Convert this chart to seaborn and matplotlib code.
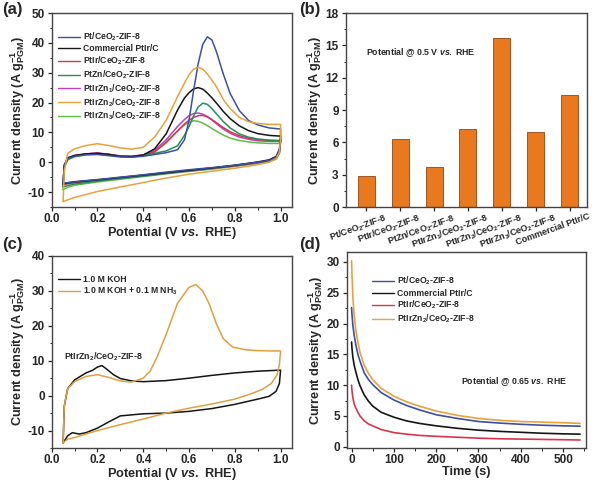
import matplotlib
matplotlib.use("Agg")
import matplotlib.pyplot as plt
from matplotlib.lines import Line2D
from matplotlib.ticker import MultipleLocator
from matplotlib.transforms import ScaledTranslation
import seaborn as sns
import pandas as pd

# ---------------- dados ----------------
# (a) CV: varredura anodica (ida) e catodica (volta)
FWD_V = [0.05, 0.055, 0.07, 0.1, 0.15, 0.2, 0.25, 0.3, 0.35, 0.4, 0.45, 0.5, 0.55, 0.58,
         0.6, 0.62, 0.64, 0.66, 0.68, 0.7, 0.72, 0.75, 0.78, 0.82, 0.86, 0.9, 0.95, 0.99, 1.0]
BWD_V = [1.0, 0.995, 0.98, 0.95, 0.9, 0.8, 0.7, 0.6, 0.5, 0.4, 0.3, 0.2, 0.1, 0.07, 0.05]

a_names = ["Pt/CeO$_2$-ZIF-8", "Commercial PtIr/C", "PtIr/CeO$_2$-ZIF-8", "PtZn/CeO$_2$-ZIF-8",
           "PtIrZn$_1$/CeO$_2$-ZIF-8", "PtIrZn$_2$/CeO$_2$-ZIF-8", "PtIrZn$_3$/CeO$_2$-ZIF-8"]
a_colors = ["#3d4ea6", "#151515", "#d8344f", "#1f9356", "#c23fbf", "#e9a23a", "#5cbf45"]

pt_fwd = [-7.0, -1.0, 1.2, 2.0, 2.5, 2.6, 2.2, 1.8, 1.7, 2.0, 2.6, 3.2, 4.2, 7.5,
          14.0, 24.0, 33.0, 39.5, 42.0, 41.0, 37.0, 29.5, 23.0, 17.3, 14.0, 12.5, 11.5, 11.2, 11.2]
comm_fwd = [-7.2, -1.0, 1.5, 2.3, 2.8, 3.0, 2.6, 2.0, 1.9, 2.4, 4.5, 9.5, 17.5, 21.5,
            23.3, 24.6, 25.0, 24.5, 23.2, 21.6, 19.8, 17.0, 14.6, 12.2, 10.6, 9.6, 9.0, 8.8, 8.8]
ptir_fwd = [-7.6, -1.2, 1.2, 2.2, 2.8, 3.0, 2.6, 2.0, 1.9, 2.4, 3.5, 6.5, 10.5, 12.8,
            14.1, 15.0, 15.6, 15.7, 15.2, 14.3, 13.2, 11.6, 10.2, 8.9, 8.1, 7.6, 7.3, 7.2, 7.2]
ptzn_fwd = [-8.3, -1.5, 1.0, 2.0, 2.7, 2.9, 2.5, 2.0, 1.9, 2.3, 3.0, 3.8, 5.5, 9.0,
            12.0, 15.5, 18.5, 19.8, 19.4, 18.0, 16.2, 13.6, 11.5, 9.5, 8.4, 7.8, 7.4, 7.3, 7.3]
zn1_fwd = [-7.3, -1.0, 1.3, 2.2, 2.8, 3.1, 2.7, 2.1, 2.0, 2.5, 4.0, 7.5, 12.0, 14.3,
           15.6, 16.3, 16.5, 16.1, 15.3, 14.2, 12.9, 11.1, 9.7, 8.4, 7.7, 7.2, 7.0, 7.0, 7.0]
zn2_fwd = [-13.0, -3.0, 3.0, 4.5, 5.6, 6.2, 5.6, 4.8, 4.4, 5.0, 8.5, 14.0, 22.0, 26.5,
           29.3, 31.2, 31.8, 31.2, 29.6, 27.5, 25.3, 21.0, 18.0, 15.0, 13.6, 13.0, 12.7, 12.7, 12.7]
zn3_fwd = [-9.2, -2.0, 0.8, 1.8, 2.5, 2.7, 2.3, 1.8, 1.7, 2.2, 3.5, 6.8, 10.5, 12.5,
           13.4, 13.9, 13.7, 13.1, 12.3, 11.3, 10.4, 9.1, 8.1, 7.3, 6.8, 6.5, 6.3, 6.3, 6.3]

pt_bwd = [8.0, 4.0, 1.6, 0.6, 0.0, -1.0, -1.8, -2.5, -3.3, -4.2, -5.0, -5.8, -6.5, -6.8, -7.0]
comm_bwd = [8.5, 4.3, 1.9, 0.8, 0.1, -1.0, -1.9, -2.7, -3.5, -4.3, -5.1, -5.9, -6.6, -6.9, -7.2]
ptir_bwd = [7.5, 3.3, 1.3, 0.4, -0.2, -1.2, -2.0, -2.8, -3.6, -4.5, -5.3, -6.1, -6.9, -7.2, -7.6]
ptzn_bwd = [7.8, 3.5, 1.4, 0.5, -0.1, -1.1, -2.0, -2.8, -3.7, -4.6, -5.4, -6.3, -7.3, -7.8, -8.3]
zn1_bwd = [7.2, 3.2, 1.2, 0.4, -0.2, -1.2, -2.1, -2.9, -3.7, -4.5, -5.3, -6.1, -6.8, -7.0, -7.3]
zn2_bwd = [8.0, 3.4, 1.2, 0.0, -0.8, -2.0, -3.0, -4.0, -5.3, -6.8, -8.3, -9.8, -11.8, -12.6, -13.2]
zn3_bwd = [7.0, 3.0, 1.0, 0.2, -0.4, -1.4, -2.3, -3.1, -3.9, -4.8, -5.7, -6.6, -7.7, -8.4, -9.2]

a_fwd = [pt_fwd, comm_fwd, ptir_fwd, ptzn_fwd, zn1_fwd, zn2_fwd, zn3_fwd]
a_bwd = [pt_bwd, comm_bwd, ptir_bwd, ptzn_bwd, zn1_bwd, zn2_bwd, zn3_bwd]
a_order = [6, 4, 2, 3, 1, 0, 5]  # ordem de desenho

# (b) barras @ 0.5 V
b_cats = ["Pt/CeO$_2$-ZIF-8", "PtIr/CeO$_2$-ZIF-8", "PtZn/CeO$_2$-ZIF-8", "PtIrZn$_1$/CeO$_2$-ZIF-8",
          "PtIrZn$_2$/CeO$_2$-ZIF-8", "PtIrZn$_3$/CeO$_2$-ZIF-8", "Commercial PtIr/C"]
b_vals = [2.9, 6.3, 3.7, 7.2, 15.7, 7.0, 10.4]

# (c) CV PtIrZn2 com e sem NH3
koh_v = [0.05, 0.055, 0.07, 0.1, 0.15, 0.18, 0.2, 0.22, 0.24, 0.27, 0.3, 0.35, 0.4, 0.5, 0.6, 0.7,
         0.8, 0.9, 1.0, 1.0, 0.995, 0.98, 0.95, 0.9, 0.8, 0.7, 0.6, 0.5, 0.4, 0.3, 0.25, 0.2,
         0.15, 0.12, 0.09, 0.07, 0.05]
koh_j = [-13.5, -3.0, 2.0, 4.5, 6.5, 7.3, 8.2, 8.6, 7.6, 6.0, 4.9, 4.2, 4.0, 4.3, 5.0, 5.8,
         6.5, 7.0, 7.3, 7.3, 3.5, 1.2, -0.2, -1.0, -2.5, -3.7, -4.5, -5.0, -5.2, -5.8, -7.5, -9.3,
         -10.6, -11.0, -10.6, -11.5, -13.5]
nh3_v = [0.05, 0.055, 0.07, 0.1, 0.15, 0.2, 0.25, 0.3, 0.35, 0.4, 0.43, 0.46, 0.5, 0.55, 0.6, 0.63,
         0.66, 0.69, 0.72, 0.75, 0.79, 0.85, 0.9, 0.95, 1.0, 1.0, 0.995, 0.985, 0.96, 0.92, 0.87,
         0.8, 0.7, 0.6, 0.5, 0.4, 0.3, 0.2, 0.1, 0.07, 0.05]
nh3_j = [-13.5, -3.0, 2.0, 4.0, 5.5, 6.0, 5.2, 4.2, 3.9, 5.0, 7.0, 11.0, 17.5, 26.5, 31.0, 31.8,
         30.0, 26.0, 20.5, 16.3, 13.9, 13.1, 12.9, 12.8, 12.8, 12.8, 9.0, 6.0, 3.5, 1.8, 0.5,
         -1.0, -2.4, -3.6, -5.0, -6.7, -8.3, -10.0, -12.0, -12.5, -13.5]

# (d) cronoamperometria @ 0.65 V
t_s = [0, 1, 3, 6, 10, 15, 20, 30, 40, 50, 70, 100, 130, 160, 200, 250, 300, 350, 400, 450, 500, 540]
d_pt = [22.6, 21.5, 19.8, 18.2, 16.6, 15.0, 13.9, 12.0, 10.9, 10.1, 8.8, 7.6, 6.7, 6.0, 5.2, 4.6,
        4.1, 3.85, 3.65, 3.5, 3.4, 3.35]
d_comm = [17.0, 16.0, 14.6, 13.3, 12.2, 10.9, 9.9, 8.4, 7.4, 6.6, 5.6, 4.8, 4.2, 3.8, 3.4, 3.0,
          2.7, 2.5, 2.35, 2.2, 2.1, 2.05]
d_ptir = [10.0, 9.1, 8.0, 7.0, 6.3, 5.6, 5.0, 4.2, 3.7, 3.4, 2.8, 2.3, 2.05, 1.85, 1.7, 1.55,
          1.4, 1.3, 1.25, 1.2, 1.15, 1.1]
d_zn2 = [30.2, 28.0, 24.5, 21.5, 19.0, 17.0, 15.3, 13.2, 11.9, 10.9, 9.5, 8.2, 7.3, 6.6, 5.8, 5.1,
         4.6, 4.3, 4.1, 4.0, 3.9, 3.8]
d_names = ["Pt/CeO$_2$-ZIF-8", "Commercial PtIr/C", "PtIr/CeO$_2$-ZIF-8", "PtIrZn$_2$/CeO$_2$-ZIF-8"]
d_colors = ["#3d4ea6", "#151515", "#d8344f", "#e9a23a"]

# ---------------- estilo ----------------
sns.set_style("ticks")
plt.rcParams['font.family'] = ['Liberation Sans', 'DejaVu Sans']
plt.rcParams['font.weight'] = 'bold'
plt.rcParams['axes.labelweight'] = 'bold'
plt.rcParams['axes.unicode_minus'] = False
plt.rcParams['mathtext.fontset'] = 'custom'
plt.rcParams['mathtext.rm'] = 'Liberation Sans:bold'
plt.rcParams['mathtext.bf'] = 'Liberation Sans:bold'
plt.rcParams['mathtext.it'] = 'Liberation Sans:italic:bold'
plt.rcParams['mathtext.default'] = 'rm'
plt.rcParams['axes.edgecolor'] = '#444444'
plt.rcParams['axes.linewidth'] = 1.0
plt.rcParams['xtick.direction'] = 'out'
plt.rcParams['ytick.direction'] = 'out'

YLAB = r"Current density (A g$^{-1}_{PGM}$)"
XLAB = r"Potential (V $\mathit{vs.}$ RHE)"
TICK_FS = 8.5
LAB_FS = 9.2
LEG = dict(frameon=False, fontsize=6.2, handlelength=2.6, handletextpad=0.3,
           labelspacing=0.15, borderaxespad=0.3, loc='upper left')

fig = plt.figure(figsize=(5.94, 4.82), dpi=100)
ax_a = fig.add_axes([0.087, 0.5705, 0.4046, 0.4025])
ax_b = fig.add_axes([0.582, 0.5705, 0.406, 0.4025])
ax_c = fig.add_axes([0.087, 0.0705, 0.4046, 0.3985])
ax_d = fig.add_axes([0.584, 0.0705, 0.4025, 0.4065])


def estilo(ax):
    for s in ax.spines.values():
        s.set_visible(True)
        s.set_color('#444444')
    ax.tick_params(axis='both', which='major', labelsize=TICK_FS, length=3, width=0.9, pad=2.0)
    ax.tick_params(axis='both', which='minor', length=1.8, width=0.7)
    ax.tick_params(axis='x', which='major', pad=1.5)
    for lab in ax.get_xticklabels() + ax.get_yticklabels():
        lab.set_fontweight('bold')


# ---- (a) ----
for i in a_order:
    xs = FWD_V + BWD_V
    ys = a_fwd[i] + a_bwd[i]
    sns.lineplot(x=xs, y=ys, sort=False, estimator=None, color=a_colors[i], lw=1.1, ax=ax_a)
ax_a.set_xlim(0, 1.05)
ax_a.set_ylim(-15, 50)
ax_a.xaxis.set_major_locator(MultipleLocator(0.2))
ax_a.xaxis.set_minor_locator(MultipleLocator(0.1))
ax_a.yaxis.set_major_locator(MultipleLocator(10))
ax_a.yaxis.set_minor_locator(MultipleLocator(5))
ax_a.set_xlabel(XLAB, fontsize=LAB_FS, fontweight='bold', labelpad=-0.5)
ax_a.set_ylabel(YLAB, fontsize=LAB_FS, fontweight='bold', labelpad=0)
h_a = [Line2D([], [], color=c, lw=1.0) for c in a_colors]
ax_a.legend(h_a, a_names, bbox_to_anchor=(0.0, 0.94), **LEG)
estilo(ax_a)

# ---- (b) ----
df_b = pd.DataFrame({'cat': b_cats, 'val': b_vals})
sns.barplot(data=df_b, x='cat', y='val', color='#e8791e', width=0.5, edgecolor='#8f4512',
            linewidth=0.6, saturation=1, ax=ax_b)
ax_b.set_xlim(-0.6, 6.5)
ax_b.set_ylim(0, 18)
ax_b.yaxis.set_major_locator(MultipleLocator(3))
ax_b.yaxis.set_minor_locator(MultipleLocator(1.5))
ax_b.set_xlabel('')
ax_b.set_ylabel(YLAB, fontsize=LAB_FS, fontweight='bold', labelpad=1)
estilo(ax_b)
ax_b.tick_params(axis='x', labelsize=6.5, pad=0.5)
desloc = ScaledTranslation(18 / 100, 0, fig.dpi_scale_trans)
for lab in ax_b.get_xticklabels():
    lab.set_rotation(20)
    lab.set_ha('right')
    lab.set_va('top')
    lab.set_rotation_mode('anchor')
    lab.set_transform(lab.get_transform() + desloc)
ax_b.text(0.083, 0.795, r"Potential @ 0.5 V $\mathit{vs.}$ RHE", transform=ax_b.transAxes,
          fontsize=6.3, fontweight='bold', va='center')

# ---- (c) ----
sns.lineplot(x=koh_v, y=koh_j, sort=False, estimator=None, color='#151515', lw=1.1, ax=ax_c)
sns.lineplot(x=nh3_v, y=nh3_j, sort=False, estimator=None, color='#e0a040', lw=1.1, ax=ax_c)
ax_c.set_xlim(0, 1.05)
ax_c.set_ylim(-15, 40)
ax_c.xaxis.set_major_locator(MultipleLocator(0.2))
ax_c.xaxis.set_minor_locator(MultipleLocator(0.1))
ax_c.yaxis.set_major_locator(MultipleLocator(10))
ax_c.yaxis.set_minor_locator(MultipleLocator(5))
ax_c.set_xlabel(XLAB, fontsize=LAB_FS, fontweight='bold', labelpad=-0.5)
ax_c.set_ylabel(YLAB, fontsize=LAB_FS, fontweight='bold', labelpad=0)
h_c = [Line2D([], [], color='#151515', lw=1.0), Line2D([], [], color='#e0a040', lw=1.0)]
ax_c.legend(h_c, ["1.0 M KOH", "1.0 M KOH + 0.1 M NH$_3$"], bbox_to_anchor=(0.0, 0.93), **LEG)
ax_c.text(0.051, 0.476, "PtIrZn$_2$/CeO$_2$-ZIF-8", transform=ax_c.transAxes,
          fontsize=6.3, fontweight='bold', va='center')
estilo(ax_c)

# ---- (d) ----
for ys, c in zip([d_pt, d_comm, d_ptir, d_zn2], d_colors):
    sns.lineplot(x=t_s, y=ys, sort=False, estimator=None, color=c, lw=1.2, ax=ax_d)
ax_d.set_xlim(-11, 554)
ax_d.set_ylim(-0.2, 31.6)
ax_d.xaxis.set_major_locator(MultipleLocator(100))
ax_d.xaxis.set_minor_locator(MultipleLocator(50))
ax_d.yaxis.set_major_locator(MultipleLocator(5))
ax_d.yaxis.set_minor_locator(MultipleLocator(2.5))
ax_d.set_xlabel("Time (s)", fontsize=LAB_FS, fontweight='bold', labelpad=-0.5)
ax_d.set_ylabel(YLAB, fontsize=LAB_FS, fontweight='bold', labelpad=1)
h_d = [Line2D([], [], color=c, lw=1.0) for c in d_colors]
ax_d.legend(h_d, d_names, bbox_to_anchor=(0.08, 0.915), **LEG)
ax_d.text(0.476, 0.338, r"Potential @ 0.65 $\mathit{vs.}$ RHE", transform=ax_d.transAxes,
          fontsize=6.3, fontweight='bold', va='center')
estilo(ax_d)

# rotulos dos paineis
for txt, x, y in [("(a)", 0.004, 0.995), ("(b)", 0.503, 0.995), ("(c)", 0.004, 0.508), ("(d)", 0.503, 0.508)]:
    fig.text(x, y, txt, fontsize=12, fontweight='bold', va='top', ha='left')

fig.savefig('out.png', dpi=100, facecolor='white')
